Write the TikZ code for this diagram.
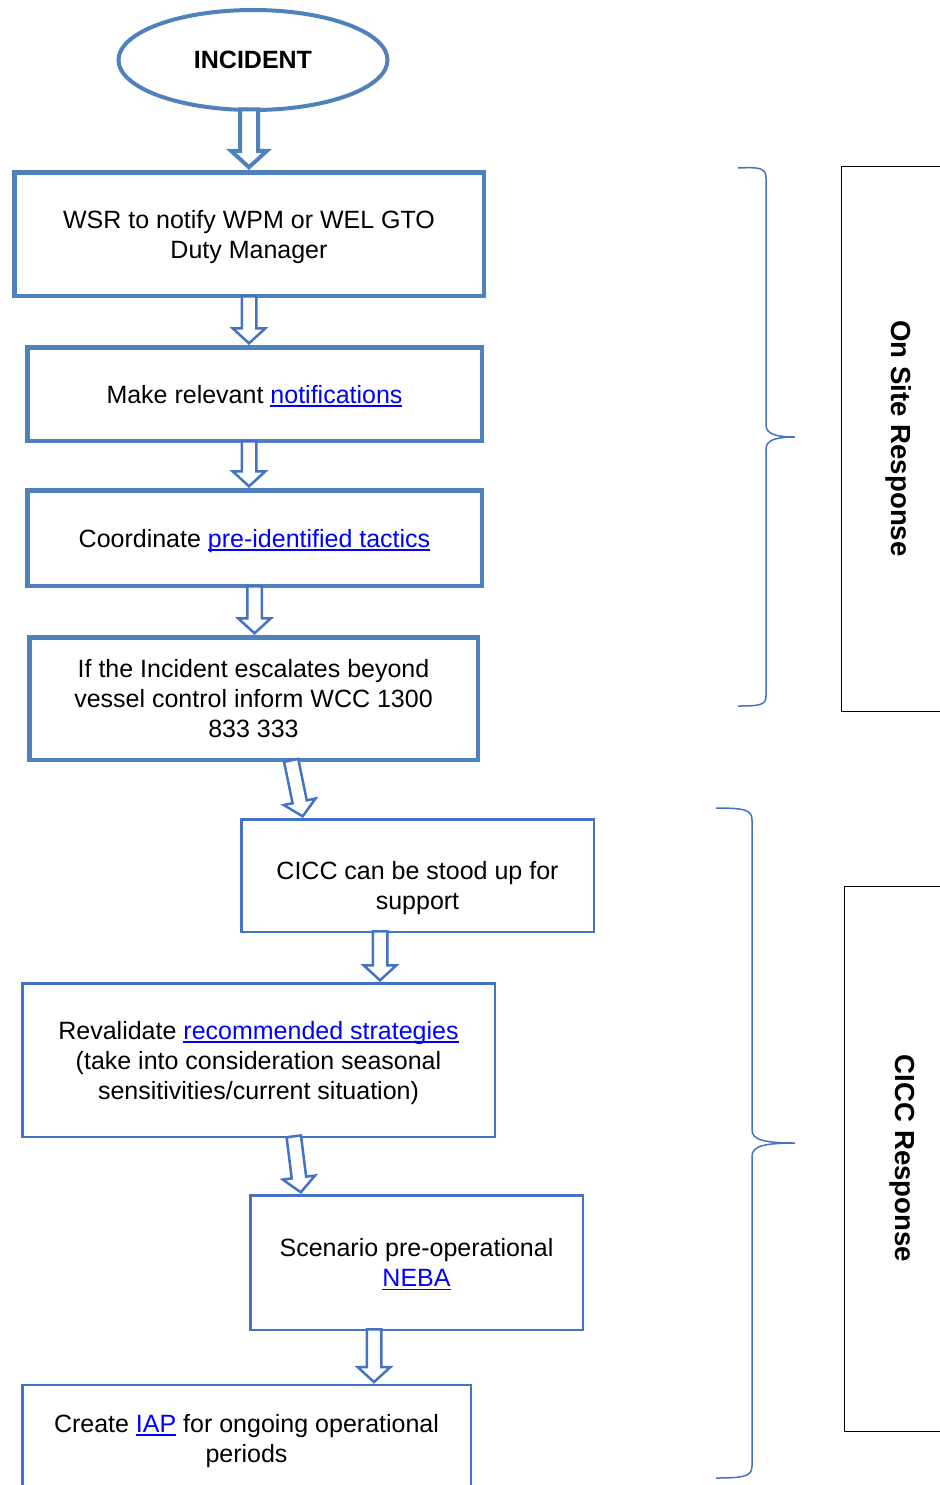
\documentclass[tikz,border=0pt]{standalone}
\usepackage{fontspec}
\setmainfont{Liberation Sans}
\usetikzlibrary{shapes.geometric,shapes.arrows,calc}

\definecolor{boxblue}{RGB}{79,129,189}
\definecolor{lineblue}{RGB}{68,114,196}
\definecolor{linkblue}{RGB}{0,0,255}

\newcommand{\hlink}[1]{\textcolor{linkblue}{\setbox0\hbox{#1}\rlap{\rule[-1.8pt]{\wd0}{0.6pt}}\box0}}
\newcommand{\flowarrow}[3][]{\path let \p1=($(#3)-(#2)$),\n1={veclen(\x1,\y1)} in (#2)--(#3) node[pos=1,sloped,allow upside down,blockarrow,anchor=tip,minimum height=\n1,#1]{};}

\tikzset{
  boxtop/.style={draw=boxblue,line width=2.25pt,align=center,inner sep=0pt,text depth=0pt},
  boxlow/.style={draw=lineblue,line width=1.25pt,align=center,inner sep=0pt,text depth=0pt},
  sidebox/.style={draw=black,line width=0.5pt,rotate=-90,font=\fontsize{13.8}{16}\selectfont\bfseries,minimum width=272.5pt,minimum height=58pt},
  blockarrow/.style={single arrow,draw=lineblue,fill=white,line width=1.25pt,inner sep=3pt,single arrow head extend=4.5pt,single arrow tip angle=95},
  bracket/.style={draw=lineblue,line width=0.75pt},
}

\begin{document}
\begin{tikzpicture}[x=0.5pt,y=-0.5pt,font=\fontsize{12.5}{15}\selectfont]

    \useasboundingbox(0,0)rectangle(940,1485);
    \clip(0,0)rectangle(940,1485);

    % flow boxes
    \node[ellipse,draw=boxblue,line width=2pt,minimum width=134.5pt,minimum height=50pt,inner sep=0pt,font=\fontsize{12.5}{15}\selectfont\bfseries](incident)at(253,60){INCIDENT};
    \node[boxtop,minimum width=234.75pt,minimum height=61.75pt](wsr)at(249,234){WSR to notify WPM or WEL GTO\\Duty Manager};
    \node[boxtop,minimum width=227.25pt,minimum height=46.75pt](notify)at(254.5,394){Make relevant \hlink{notifications}};
    \node[boxtop,minimum width=227.25pt,minimum height=47.75pt](tactics)at(254.5,538){Coordinate \hlink{pre-identified tactics}};
    \node[boxtop,minimum width=224.25pt,minimum height=61.25pt](escalate)at(253.5,698.5){If the Incident escalates beyond\\vessel control inform WCC 1300\\833 333};
    \node[boxlow,minimum width=176.25pt,minimum height=56.25pt](cicc)at(417.5,875.5){\rule{0pt}{19pt}CICC can be stood up for\\support};
    \node[boxlow,minimum width=236.25pt,minimum height=76.75pt](revalidate)at(258.5,1060){Revalidate \hlink{recommended strategies}\\(take into consideration seasonal\\sensitivities/current situation)};
    \node[boxlow,minimum width=166.25pt,minimum height=67.25pt](neba)at(416.5,1262.5){Scenario pre-operational\\\hlink{NEBA}};
    \node[boxlow,minimum width=224.25pt,minimum height=53pt](iap)at(246.5,1438){Create \hlink{IAP} for ongoing operational\\periods};

    % hollow arrows
    \flowarrow[draw=boxblue,line width=2pt,inner sep=3.5pt]{incident.south-|wsr.north}{wsr.north}
    \flowarrow{wsr.south}{[xshift=-2.75pt]notify.north}
    \flowarrow{[xshift=-2.75pt]notify.south}{[xshift=-2.75pt]tactics.north}
    \flowarrow{tactics.south}{tactics.south|-escalate.north}
    \flowarrow{[xshift=19pt]escalate.south}{[xshift=-57.25pt]cicc.north}
    \flowarrow{[xshift=-18.75pt]cicc.south}{[xshift=60.75pt]revalidate.north}
    \flowarrow{[xshift=17.75pt]revalidate.south}{[xshift=-57.75pt]neba.north}
    \flowarrow{[xshift=-21.25pt]neba.south}{[xshift=63.75pt]iap.north}

    % braces and phase labels
    \draw[bracket](738,168)..controls(760,167)and(766,168)..(766,178)--(766,425)..controls(766,434)and(776,437)..(795,437)..controls(776,437)and(766,440)..(766,449)--(766,696)..controls(766,705)and(760,706)..(738,706);
    \draw[bracket](716,808)..controls(745,808)and(752,810)..(752,820)--(752,1130)..controls(752,1140)and(765,1143)..(795,1143)..controls(765,1143)and(752,1146)..(752,1156)--(752,1466)..controls(752,1476)and(745,1478)..(716,1478);
    \node[sidebox](onsite)at(899,438.5){On Site Response};
    \node[sidebox](ciccresp)at(902,1158.5){CICC Response};

\end{tikzpicture}
\end{document}
